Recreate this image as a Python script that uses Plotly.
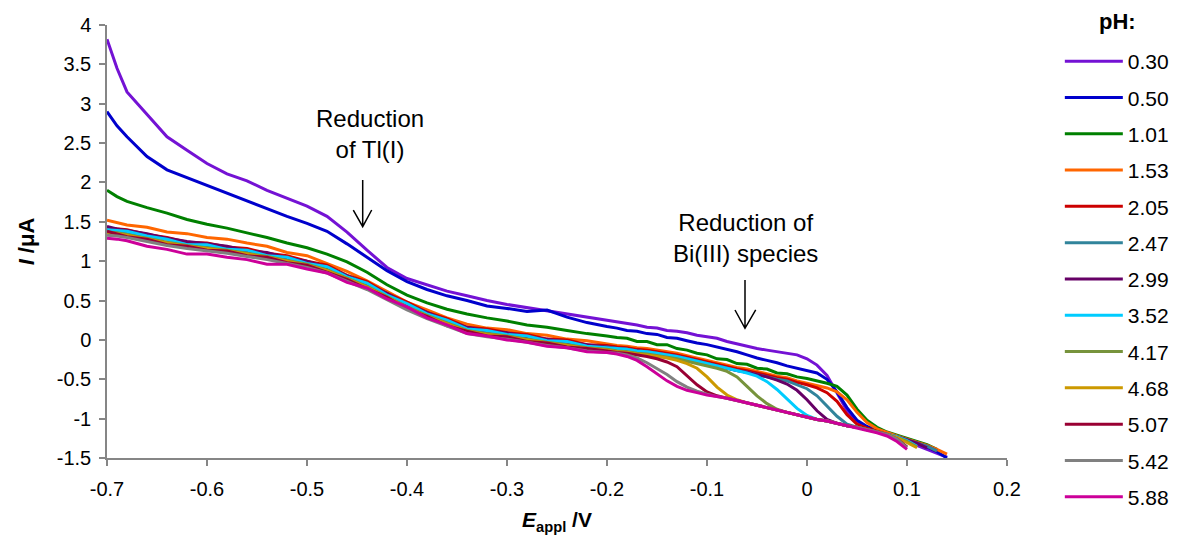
import plotly.graph_objects as go

# Applied potential grid (V)
E = [-0.70, -0.69, -0.68, -0.66, -0.64, -0.62, -0.60, -0.58, -0.56, -0.54, -0.52,
     -0.50, -0.48, -0.46, -0.44, -0.42, -0.40, -0.38, -0.36, -0.34, -0.32,
     -0.30, -0.28, -0.26, -0.24, -0.22, -0.20,
     -0.19, -0.18, -0.17, -0.16, -0.15, -0.14, -0.13, -0.12, -0.11, -0.10,
     -0.09, -0.08, -0.07, -0.06, -0.05, -0.04, -0.03, -0.02, -0.01, 0.00,
     0.01, 0.02, 0.03, 0.04, 0.05, 0.06, 0.07, 0.08, 0.09, 0.10,
     0.11, 0.12, 0.13, 0.14]

ph_labels = ["0.30", "0.50", "1.01", "1.53", "2.05", "2.47", "2.99",
             "3.52", "4.17", "4.68", "5.07", "5.42", "5.88"]

I_030 = [3.82, 3.45, 3.15, 2.86, 2.58, 2.41, 2.24, 2.11, 2.02, 1.90, 1.80,
         1.70, 1.57, 1.37, 1.14, 0.92, 0.78, 0.70, 0.62, 0.56, 0.50,
         0.45, 0.41, 0.37, 0.33, 0.29, 0.25,
         0.23, 0.21, 0.19, 0.16, 0.15, 0.12, 0.11, 0.09, 0.06, 0.04,
         0.02, -0.02, -0.05, -0.08, -0.11, -0.13, -0.15, -0.17, -0.19, -0.24,
         -0.32, -0.45, -0.68, -0.90, -1.05, -1.11, -1.15, -1.19, -1.24, -1.29,
         -1.33, -1.38, -1.43, -1.49]
I_050 = [2.90, 2.72, 2.58, 2.33, 2.16, 2.06, 1.97, 1.87, 1.76, 1.67, 1.57,
         1.48, 1.38, 1.22, 1.05, 0.88, 0.74, 0.64, 0.56, 0.50, 0.43,
         0.40, 0.36, 0.38, 0.29, 0.22, 0.17,
         0.15, 0.12, 0.11, 0.08, 0.07, 0.03, 0.02, -0.01, -0.04, -0.06,
         -0.09, -0.12, -0.15, -0.19, -0.23, -0.26, -0.29, -0.33, -0.36, -0.39,
         -0.42, -0.50, -0.66, -0.86, -1.02, -1.10, -1.15, -1.19, -1.23, -1.27,
         -1.31, -1.36, -1.42, -1.50]
I_101 = [1.90, 1.82, 1.76, 1.68, 1.61, 1.53, 1.47, 1.42, 1.36, 1.30, 1.23,
         1.17, 1.09, 0.99, 0.86, 0.70, 0.57, 0.47, 0.39, 0.33, 0.28,
         0.24, 0.19, 0.16, 0.12, 0.08, 0.05,
         0.03, 0.02, -0.02, -0.02, -0.06, -0.06, -0.11, -0.13, -0.17, -0.19,
         -0.24, -0.25, -0.30, -0.31, -0.36, -0.37, -0.42, -0.43, -0.47, -0.49,
         -0.52, -0.55, -0.59, -0.70, -0.88, -1.02, -1.11, -1.17, -1.21, -1.25,
         -1.29, -1.33, -1.39]
I_153 = [1.52, 1.49, 1.46, 1.43, 1.37, 1.35, 1.30, 1.28, 1.23, 1.19, 1.11,
         1.07, 0.97, 0.87, 0.75, 0.62, 0.48, 0.38, 0.28, 0.20, 0.15,
         0.13, 0.08, 0.06, 0.01, -0.01, -0.05,
         -0.07, -0.08, -0.10, -0.11, -0.13, -0.15, -0.17, -0.20, -0.23, -0.26,
         -0.29, -0.32, -0.35, -0.37, -0.40, -0.43, -0.46, -0.48, -0.52, -0.55,
         -0.58, -0.61, -0.66, -0.76, -0.92, -1.05, -1.13, -1.18, -1.22, -1.26,
         -1.30, -1.34, -1.39, -1.45]
I_205 = [1.42, 1.41, 1.40, 1.34, 1.30, 1.24, 1.23, 1.18, 1.16, 1.10, 1.07,
         1.00, 0.95, 0.82, 0.74, 0.59, 0.48, 0.35, 0.27, 0.16, 0.14,
         0.09, 0.07, 0.01, 0.00, -0.06, -0.07,
         -0.09, -0.10, -0.12, -0.13, -0.15, -0.17, -0.19, -0.22, -0.25, -0.28,
         -0.31, -0.34, -0.37, -0.39, -0.42, -0.45, -0.48, -0.50, -0.54, -0.57,
         -0.61, -0.67, -0.78, -0.95, -1.07, -1.12, -1.16, -1.20, -1.23, -1.27,
         -1.31, -1.35, -1.41]
I_247 = [1.40, 1.39, 1.37, 1.32, 1.28, 1.22, 1.20, 1.17, 1.13, 1.09, 1.04,
         0.99, 0.92, 0.81, 0.71, 0.58, 0.45, 0.34, 0.24, 0.15, 0.11,
         0.08, 0.04, 0.00, -0.03, -0.07, -0.09,
         -0.11, -0.12, -0.14, -0.15, -0.17, -0.19, -0.21, -0.24, -0.27, -0.30,
         -0.33, -0.36, -0.39, -0.41, -0.44, -0.47, -0.50, -0.52, -0.57, -0.62,
         -0.71, -0.84, -0.97, -1.07, -1.11, -1.14, -1.17, -1.20, -1.23, -1.27,
         -1.31, -1.35, -1.41]
I_299 = [1.44, 1.41, 1.39, 1.35, 1.29, 1.25, 1.22, 1.19, 1.13, 1.11, 1.04,
         1.00, 0.92, 0.82, 0.71, 0.59, 0.45, 0.35, 0.24, 0.16, 0.11,
         0.09, 0.04, 0.01, -0.03, -0.06, -0.09,
         -0.11, -0.12, -0.14, -0.15, -0.17, -0.19, -0.21, -0.24, -0.27, -0.30,
         -0.33, -0.36, -0.39, -0.41, -0.44, -0.47, -0.51, -0.56, -0.64, -0.76,
         -0.90, -1.01, -1.06, -1.09, -1.11, -1.14, -1.17, -1.20, -1.23, -1.27,
         -1.31, -1.37]
I_352 = [1.40, 1.39, 1.38, 1.32, 1.28, 1.21, 1.21, 1.15, 1.14, 1.07, 1.05,
         0.97, 0.93, 0.80, 0.72, 0.57, 0.46, 0.33, 0.25, 0.14, 0.12,
         0.07, 0.05, -0.01, -0.02, -0.08, -0.10,
         -0.11, -0.12, -0.14, -0.15, -0.17, -0.19, -0.21, -0.24, -0.27, -0.30,
         -0.33, -0.36, -0.39, -0.42, -0.46, -0.53, -0.63, -0.75, -0.87, -0.96,
         -1.01, -1.03, -1.06, -1.09, -1.11, -1.14, -1.17, -1.20, -1.23, -1.28,
         -1.35]
I_417 = [1.37, 1.36, 1.34, 1.29, 1.24, 1.20, 1.17, 1.14, 1.10, 1.06, 1.01,
         0.96, 0.89, 0.78, 0.68, 0.55, 0.42, 0.31, 0.21, 0.12, 0.08,
         0.05, 0.01, -0.03, -0.06, -0.10, -0.12,
         -0.14, -0.15, -0.17, -0.18, -0.20, -0.22, -0.24, -0.27, -0.30, -0.33,
         -0.36, -0.40, -0.47, -0.59, -0.71, -0.81, -0.88, -0.92, -0.95, -0.98,
         -1.01, -1.03, -1.06, -1.09, -1.11, -1.14, -1.17, -1.20, -1.24, -1.29,
         -1.36]
I_468 = [1.36, 1.35, 1.33, 1.28, 1.23, 1.19, 1.16, 1.13, 1.09, 1.05, 1.00,
         0.95, 0.88, 0.77, 0.67, 0.54, 0.41, 0.30, 0.20, 0.11, 0.07,
         0.04, 0.00, -0.04, -0.07, -0.11, -0.13,
         -0.15, -0.16, -0.18, -0.19, -0.21, -0.23, -0.26, -0.30, -0.36, -0.47,
         -0.60, -0.70, -0.76, -0.80, -0.83, -0.86, -0.89, -0.92, -0.95, -0.98,
         -1.01, -1.03, -1.06, -1.09, -1.11, -1.14, -1.17, -1.20, -1.24, -1.30,
         -1.37]
I_507 = [1.38, 1.34, 1.31, 1.28, 1.21, 1.19, 1.14, 1.13, 1.07, 1.05, 0.98,
         0.95, 0.86, 0.77, 0.65, 0.54, 0.39, 0.30, 0.18, 0.11, 0.05,
         0.04, -0.02, -0.04, -0.09, -0.11, -0.14,
         -0.16, -0.17, -0.19, -0.21, -0.24, -0.28, -0.34, -0.45, -0.57, -0.66,
         -0.71, -0.74, -0.77, -0.80, -0.83, -0.86, -0.89, -0.92, -0.95, -0.98,
         -1.01, -1.03, -1.06, -1.09, -1.11, -1.14, -1.17, -1.20, -1.26, -1.36]
I_542 = [1.33, 1.32, 1.30, 1.25, 1.20, 1.16, 1.13, 1.10, 1.06, 1.02, 0.97,
         0.92, 0.85, 0.74, 0.64, 0.51, 0.38, 0.27, 0.17, 0.08, 0.04,
         0.01, -0.03, -0.07, -0.10, -0.14, -0.16,
         -0.17, -0.19, -0.23, -0.29, -0.36, -0.44, -0.53, -0.60, -0.65, -0.69,
         -0.72, -0.74, -0.77, -0.80, -0.83, -0.86, -0.89, -0.92, -0.95, -0.98,
         -1.01, -1.03, -1.06, -1.09, -1.11, -1.14, -1.17, -1.20, -1.26, -1.37]
I_588 = [1.29, 1.28, 1.26, 1.19, 1.15, 1.09, 1.09, 1.05, 1.02, 0.96, 0.96,
         0.90, 0.85, 0.73, 0.66, 0.52, 0.42, 0.28, 0.19, 0.08, 0.05,
         0.00, -0.03, -0.08, -0.10, -0.15, -0.16,
         -0.18, -0.21, -0.26, -0.34, -0.43, -0.52, -0.59, -0.64, -0.67, -0.70,
         -0.72, -0.74, -0.77, -0.80, -0.83, -0.86, -0.89, -0.92, -0.95, -0.98,
         -1.01, -1.03, -1.06, -1.09, -1.12, -1.15, -1.18, -1.22, -1.29, -1.39]

series = [I_030, I_050, I_101, I_153, I_205, I_247, I_299,
          I_352, I_417, I_468, I_507, I_542, I_588]
colors = ["#7412D4", "#0000CC", "#008000", "#FF6600", "#CC0000", "#31849B",
          "#660066", "#00CCFF", "#77933C", "#CC9900", "#990033", "#808080",
          "#CC0099"]

FONT = "Liberation Sans, Arial, sans-serif"

fig = go.Figure()
for lab, ys, col in zip(ph_labels, series, colors):
    fig.add_trace(go.Scatter(
        x=E[:len(ys)], y=ys, mode="lines", name=lab, legendgroup=lab,
        line=dict(color=col, width=3)))

axis_col = "#868686"
fig.update_xaxes(range=[-0.7, 0.2], tickvals=[-0.7, -0.6, -0.5, -0.4, -0.3, -0.2, -0.1, 0, 0.1, 0.2],
                 ticktext=["-0.7", "-0.6", "-0.5", "-0.4", "-0.3", "-0.2", "-0.1", "0", "0.1", "0.2"],
                 showline=True, linecolor=axis_col, linewidth=1.5, ticks="outside",
                 tickcolor=axis_col, ticklen=6, tickwidth=1.5, showgrid=False, zeroline=False,
                 ticklabelstandoff=6,
                 tickfont=dict(family=FONT, size=20, color="#000"),
                 title=dict(text="<b><i>E</i><sub>appl</sub> /V</b>",
                            font=dict(family=FONT, size=21, color="#000"), standoff=14))
fig.update_yaxes(range=[-1.5, 4], tickvals=[-1.5, -1, -0.5, 0, 0.5, 1, 1.5, 2, 2.5, 3, 3.5, 4],
                 ticktext=["-1.5", "-1", "-0.5", "0", "0.5", "1", "1.5", "2", "2.5", "3", "3.5", "4"],
                 showline=True, linecolor=axis_col, linewidth=1.5, ticks="outside",
                 tickcolor=axis_col, ticklen=6, tickwidth=1.5, showgrid=False, zeroline=False,
                 ticklabelstandoff=4,
                 tickfont=dict(family=FONT, size=20, color="#000"),
                 title=dict(text="<b><i>I</i> /μA</b>",
                            font=dict(family=FONT, size=22, color="#000"), standoff=16))

# annotation arrows (open V heads)
arrow_style = dict(type="path", xref="x", yref="y", line=dict(color="#000", width=1.5))
fig.add_shape(path="M -0.4443 2.031 L -0.4443 1.438 M -0.4537 1.650 L -0.4443 1.438 L -0.4353 1.650",
              **arrow_style)
fig.add_shape(path="M -0.062 0.761 L -0.062 0.147 M -0.072 0.380 L -0.062 0.147 L -0.0513 0.380",
              **arrow_style)

fig.add_annotation(x=-0.437, y=2.61, xref="x", yref="y", text="Reduction<br>of Tl(I)",
                   showarrow=False, align="center",
                   font=dict(family=FONT, size=24, color="#000"))
fig.add_annotation(x=-0.062, y=1.29, xref="x", yref="y", text="Reduction of<br>Bi(III) species",
                   showarrow=False, align="center",
                   font=dict(family=FONT, size=24, color="#000"))

# legend title
fig.add_annotation(x=1.123, y=1.007, xref="paper", yref="paper", text="<b>pH:</b>",
                   showarrow=False, xanchor="center", yanchor="middle",
                   font=dict(family=FONT, size=22, color="#000"))

fig.update_layout(
    width=1181, height=539,
    margin=dict(l=107, r=174, t=25, b=81, autoexpand=False),
    paper_bgcolor="white", plot_bgcolor="white",
    legend=dict(x=1.0587, xanchor="left", y=0.963, yanchor="top",
                font=dict(family=FONT, size=21, color="#000"),
                tracegroupgap=6, itemwidth=58, maxheight=600,
                bgcolor="rgba(0,0,0,0)"),
    showlegend=True,
)

fig.write_html("out.html")
